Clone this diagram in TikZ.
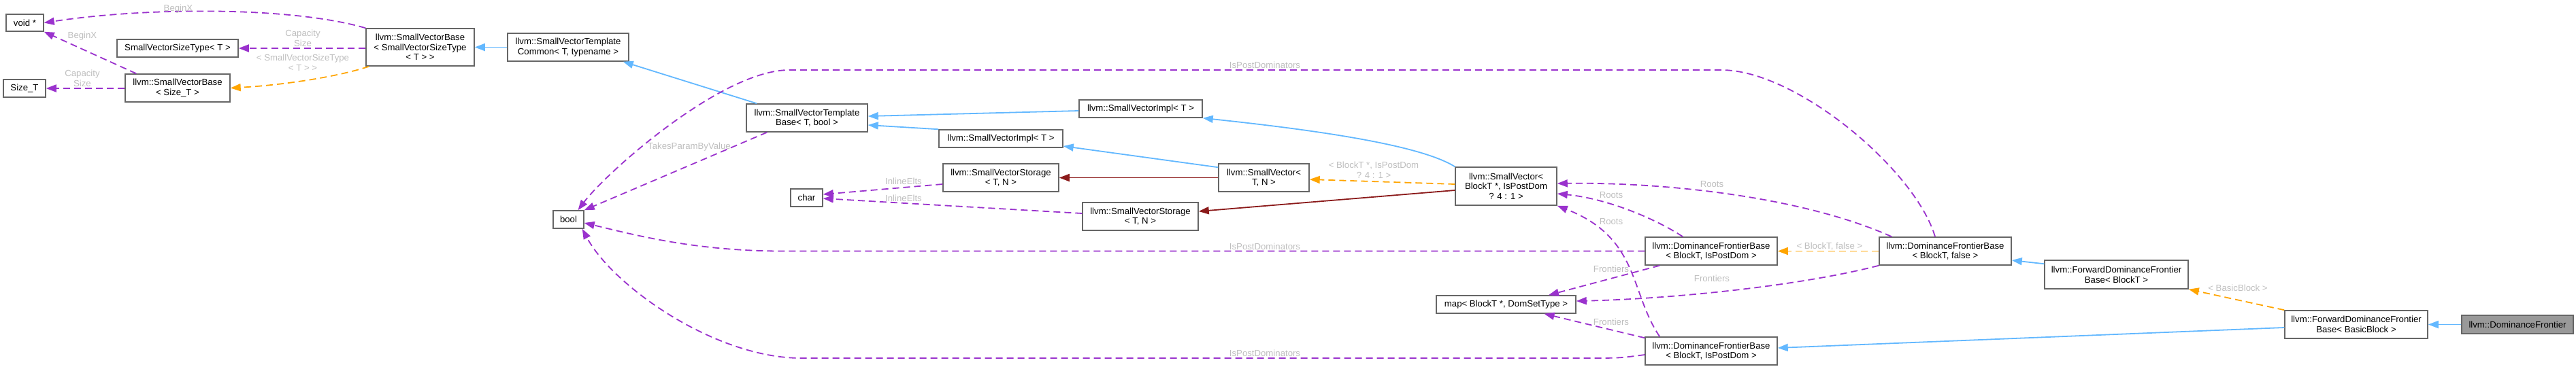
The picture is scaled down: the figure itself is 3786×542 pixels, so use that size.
\documentclass[tikz,border=0pt]{standalone}
\usepackage{fontspec}
\setmainfont{Liberation Sans}
\usetikzlibrary{arrows.meta}
\definecolor{inh}{HTML}{63B8FF}
\definecolor{usec}{HTML}{9A32CD}
\definecolor{tmpl}{HTML}{FFA500}
\definecolor{prot}{HTML}{8B1A1A}
\definecolor{lbl}{HTML}{BEBEBE}
\definecolor{boxline}{HTML}{666666}
\definecolor{hilite}{HTML}{999999}
\tikzset{
  cls/.style={draw=boxline, line width=1.5pt, fill=white, align=center, inner sep=0pt, font=\fontsize{13.2}{14.7}\selectfont},
  tipend/.style={-{Triangle[length=15pt,width=11pt]}},
  inhe/.style={draw=inh, line width=1.8pt, tipend},
  usee/.style={draw=usec, line width=1.8pt, dash pattern=on 10pt off 6pt, tipend},
  tmple/.style={draw=tmpl, line width=1.8pt, dash pattern=on 10pt off 6pt, tipend},
  prote/.style={draw=prot, line width=1.8pt, tipend},
  elbl/.style={text=lbl, align=center, inner sep=0pt, font=\fontsize{13.2}{14.7}\selectfont},
}
\begin{document}
\begin{tikzpicture}[x=1pt,y=-1pt]
\useasboundingbox (0,0) rectangle (3786,542);
% nodes
\node[cls, minimum width=55pt, minimum height=25pt] (void) at (36.5,33.5) {void *};
\node[cls, minimum width=178pt, minimum height=26pt] (svst) at (261,71) {SmallVectorSizeType< T >};
\node[cls, minimum width=62pt, minimum height=26pt] (sizet) at (36,130) {Size\_T};
\node[cls, minimum width=154pt, minimum height=41pt] (svbs) at (261,129.5) {llvm::SmallVectorBase\\< Size\_T >};
\node[cls, minimum width=159pt, minimum height=55pt] (svbt) at (617.5,69.5) {llvm::SmallVectorBase\\< SmallVectorSizeType\\< T > >};
\node[cls, minimum width=178pt, minimum height=41pt] (svtc) at (835,69.5) {llvm::SmallVectorTemplate\\Common< T, typename >};
\node[cls, minimum width=178pt, minimum height=41pt] (svtb) at (1186,173.5) {llvm::SmallVectorTemplate\\Base< T, bool >};
\node[cls, minimum width=45pt, minimum height=26pt] (bool) at (835.5,323) {bool};
\node[cls, minimum width=47pt, minimum height=26pt] (char) at (1185.5,291) {char};
\node[cls, minimum width=181pt, minimum height=26pt] (svi1) at (1676.5,160) {llvm::SmallVectorImpl< T >};
\node[cls, minimum width=182pt, minimum height=26pt] (svi2) at (1471,204) {llvm::SmallVectorImpl< T >};
\node[cls, minimum width=170pt, minimum height=41pt] (svs1) at (1471,261.5) {llvm::SmallVectorStorage\\< T, N >};
\node[cls, minimum width=133pt, minimum height=41pt] (svtn) at (1857.5,261.5) {llvm::SmallVector<\\ T, N >};
\node[cls, minimum width=170pt, minimum height=41pt] (svs2) at (1676,318.5) {llvm::SmallVectorStorage\\< T, N >};
\node[cls, minimum width=149pt, minimum height=56pt] (svb) at (2213.5,274) {llvm::SmallVector<\\ BlockT *, IsPostDom\\ ? 4 : 1 >};
\node[cls, minimum width=205pt, minimum height=26pt] (map) at (2213.5,448) {map< BlockT *, DomSetType >};
\node[cls, minimum width=194pt, minimum height=41pt] (dfb1) at (2515,369.5) {llvm::DominanceFrontierBase\\< BlockT, IsPostDom >};
\node[cls, minimum width=194pt, minimum height=41pt] (dfb2) at (2515,516.5) {llvm::DominanceFrontierBase\\< BlockT, IsPostDom >};
\node[cls, minimum width=194pt, minimum height=41pt] (dfbf) at (2859,369.5) {llvm::DominanceFrontierBase\\< BlockT, false >};
\node[cls, minimum width=211pt, minimum height=42pt] (fdfb) at (3110.5,404) {llvm::ForwardDominanceFrontier\\Base< BlockT >};
\node[cls, minimum width=210pt, minimum height=41pt] (fdfbb) at (3463,477.5) {llvm::ForwardDominanceFrontier\\Base< BasicBlock >};
\node[cls, minimum width=164pt, minimum height=27pt, fill=hilite] (df) at (3700,477.5) {llvm::DominanceFrontier};
% edges
\draw[usee] (svbt.north west) .. controls (430,10) and (220,10) .. (void.east);
\draw[usee] ([xshift=17pt]svbs.north west) -- (void.south east);
\draw[usee] (svbt.west |- svst.east) -- (svst.east);
\draw[usee] (svbs.west |- sizet.east) -- (sizet.east);
\draw[tmple] ([xshift=5pt]svbt.south west) .. controls (500,112) and (420,125) .. (svbs.east);
\draw[inhe] (svtc.west) -- (svbt.east);
\draw[inhe] ([xshift=16pt]svtb.north west) -- ([xshift=-9pt]svtc.south east);
\draw[inhe] ([yshift=-3pt]svi1.west) -- ([yshift=2.5pt]svtb.east);
\draw[inhe] (svi2.north west) -- ([yshift=-10.5pt]svtb.east);
\draw[usee] ([xshift=31pt]svtb.south west) -- (bool.north east);
\draw[usee] ([yshift=-9.5pt]svs1.west) -- ([yshift=5pt]char.east);
\draw[usee] ([yshift=4.5pt]svs2.west) .. controls (1450,306) .. ([yshift=-1pt]char.east);
\draw[inhe] ([yshift=-6pt]svtn.north west) -- ([yshift=-11pt]svi2.east);
\draw[prote] (svtn.west) -- (svs1.east);
\draw[inhe] (svb.north west) .. controls (2090,215) and (1950,193) .. (svi1.south east);
\draw[prote] ([yshift=-6pt]svb.west) -- ([yshift=7.5pt]svs2.east);
\draw[tmple] ([yshift=3pt]svb.west) -- ([yshift=-2.5pt]svtn.east);
\draw[usee] ([xshift=56pt]dfb1.north west) .. controls (2430,320) and (2360,292) .. ([yshift=-11pt]svb.east);
\draw[usee] ([xshift=22pt]dfb2.north west) .. controls (2395,430) and (2410,350) .. (svb.south east);
\draw[usee] ([xshift=19pt]dfbf.north west) .. controls (2650,290) and (2450,268) .. ([yshift=4pt]svb.east);
\draw[usee] (dfb1.west) -- (1150,369.5) .. controls (1020,369.5) and (930,345) .. ([yshift=-5pt]bool.east);
\draw[usee] ([yshift=-5.5pt]dfb2.west) .. controls (2380,527) .. (2330,527) -- (1178,527) .. controls (1050,527) and (900,420) .. ([xshift=-3pt]bool.south east);
\draw[usee] ([xshift=-15pt]dfbf.north) .. controls (2815,250) and (2640,103) .. (2530,103) -- (1160,103) .. controls (1060,103) and (890,255) .. ([xshift=14pt]bool.north);
\draw[usee] ([xshift=22pt]dfb1.south west) -- ([xshift=62.5pt]map.north);
\draw[usee] (dfbf.south west) .. controls (2640,422) and (2450,440) .. ([yshift=5pt]map.east);
\draw[usee] ([yshift=-2pt]dfb2.north west) -- ([xshift=56pt]map.south);
\draw[tmple] (dfbf.west) -- (dfb1.east);
\draw[inhe] ([yshift=-6pt]fdfb.north west) -- ([yshift=-13.5pt]dfbf.east);
\draw[tmple] (fdfbb.north west) -- (fdfb.south east);
\draw[inhe] ([yshift=-4.5pt]fdfbb.west) -- ([yshift=4.5pt]dfb2.east);
\draw[inhe] (df.west) -- (fdfbb.east);
% labels
\node[elbl] (l1) at (262,13) {BeginX};
\node[elbl] (l2) at (121,53) {BeginX};
\node[elbl] (l3) at (445,56) {Capacity\\Size};
\node[elbl] (l4) at (121,115) {Capacity\\Size};
\node[elbl] (l5) at (445,92) {< SmallVectorSizeType\\< T > >};
\node[elbl] (l6) at (1013,216) {TakesParamByValue};
\node[elbl] (l7) at (1859,96) {IsPostDominators};
\node[elbl] (l8) at (1859,363) {IsPostDominators};
\node[elbl] (l9) at (1859,520) {IsPostDominators};
\node[elbl] (l10) at (1328,267) {InlineElts};
\node[elbl] (l11) at (1328,292) {InlineElts};
\node[elbl] (l12) at (2019,250) {< BlockT *, IsPostDom\\ ? 4 : 1 >};
\node[elbl] (l13) at (2368,287) {Roots};
\node[elbl] (l14) at (2368,326) {Roots};
\node[elbl] (l15) at (2516,271) {Roots};
\node[elbl] (l16) at (2368,396) {Frontiers};
\node[elbl] (l17) at (2516,410) {Frontiers};
\node[elbl] (l18) at (2368,474) {Frontiers};
\node[elbl] (l19) at (2689,363) {< BlockT, false >};
\node[elbl] (l20) at (3289,424) {< BasicBlock >};
\end{tikzpicture}
\end{document}
